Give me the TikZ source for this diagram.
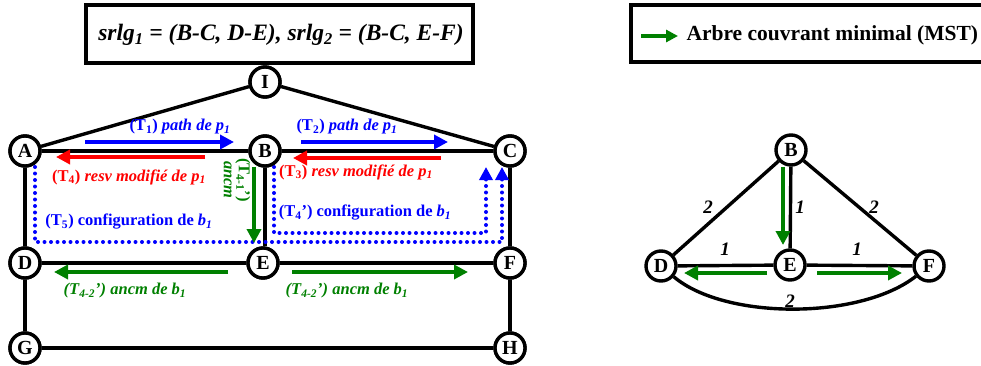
\documentclass[tikz,border=0pt]{standalone}
\usepackage{fontspec}
\setmainfont{Liberation Serif}
\usetikzlibrary{arrows.meta}
\definecolor{cblue}{RGB}{0,0,255}
\definecolor{cred}{RGB}{255,0,0}
\definecolor{cgreen}{RGB}{0,128,0}
\begin{document}
\begin{tikzpicture}[x=1pt,y=-1pt,
  vtx/.style={circle, draw, line width=3.4pt, fill=white, minimum size=30pt, inner sep=0pt, font=\fontsize{20}{20}\selectfont\bfseries},
  edge/.style={line width=3.4pt},
  carr/.style={line width=4.4pt, -{Triangle[length=14pt,width=14pt]}},
  dotarr/.style={cblue, line width=4pt, line cap=round, dash pattern=on 0pt off 6.5pt, -{Triangle[length=13pt,width=13pt]}},
  lbl/.style={font=\fontsize{16.5}{17}\selectfont\bfseries, inner sep=1pt},
  wlbl/.style={font=\fontsize{19}{19}\selectfont\bfseries\itshape, inner sep=1pt},
  boxst/.style={draw, line width=3.4pt}
]
\useasboundingbox (0,0) rectangle (981,366);

% title box
\draw[boxst] (86,5) rectangle (473,63);
\node[font=\fontsize{23.5}{25}\selectfont\bfseries\itshape] (title) at (281,35) {srlg\textsubscript{1} = (B-C, D-E), srlg\textsubscript{2} = (B-C, E-F)};

% legend box
\draw[boxst] (631,5) rectangle (995,62);
\coordinate (lg1) at (641,36);
\coordinate (lg2) at (678,36);
\draw[cgreen, line width=3.6pt, -{Triangle[length=12pt,width=12pt]}] (lg1) -- (lg2);
\node[font=\fontsize{21.5}{23}\selectfont\bfseries, anchor=west] (legend) at (683,35) {Arbre couvrant minimal (MST)};

% left graph nodes
\node[vtx] (I) at (265,82) {I};
\node[vtx] (A) at (25,151) {A};
\node[vtx] (B) at (265,151) {B};
\node[vtx] (C) at (510,151) {C};
\node[vtx] (D) at (25,263) {D};
\node[vtx] (E) at (263,263) {E};
\node[vtx] (F) at (510,263) {F};
\node[vtx] (G) at (25,348) {G};
\node[vtx] (H) at (510,348) {H};

\draw[edge] (A) -- (I);
\draw[edge] (I) -- (C);
\draw[edge] (A) -- (B);
\draw[edge] (B) -- (C);
\draw[edge] (A) -- (D);
\draw[edge] (B) -- (B |- E.north);
\draw[edge] (C) -- (F);
\draw[edge] (D) -- (E);
\draw[edge] (E) -- (F);
\draw[edge] (D) -- (G);
\draw[edge] (F) -- (H);
\draw[edge] (G) -- (H);

% dotted configuration paths
\coordinate (p5a) at (35,167);
\coordinate (p5b) at (35,242);
\coordinate (p5c) at (502,242);
\coordinate (p5d) at (502,167);
\draw[dotarr] (p5a) -- (p5b) -- (p5c) -- (p5d);
\coordinate (p4a) at (274,167);
\coordinate (p4b) at (274,233);
\coordinate (p4c) at (486,233);
\coordinate (p4d) at (486,167);
\draw[dotarr] (p4a) -- (p4b) -- (p4c) -- (p4d);

% redraw nodes on top
\foreach \n/\t in {I/I,A/A,B/B,C/C,D/D,E/E,F/F,G/G,H/H}{\node[vtx] at (\n) {\t};}

% coloured arrows
\draw[carr, cblue] (85,142) -- (234,142);
\draw[carr, cred] (205,157) -- (56,157);
\draw[carr, cblue] (301,142) -- (448,142);
\draw[carr, cred] (441,158) -- (293,158);
\draw[carr, cgreen] (254,167) -- (254,243);
\draw[carr, cgreen] (228,272) -- (54,272);
\draw[carr, cgreen] (292,272) -- (468,272);

% labels
\node[lbl, cblue] (l1) at (180,127) {(T\textsubscript{1}) \textit{path de p\textsubscript{1}}};
\node[lbl, cred] (l4) at (129,177) {(T\textsubscript{4}) \textit{resv modifié de p\textsubscript{1}}};
\node[lbl, cblue] (l2) at (347,127) {(T\textsubscript{2}) \textit{path de p\textsubscript{1}}};
\node[lbl, cred] (l3) at (356,172) {(T\textsubscript{3}) \textit{resv modifié de p\textsubscript{1}}};
\node[lbl, cblue] (l5) at (129,222) {(T\textsubscript{5}) configuration de \textit{b\textsubscript{1}}};
\node[lbl, cblue] (l4p) at (365,213) {(T\textsubscript{4}’) configuration de \textit{b\textsubscript{1}}};
\node[lbl, cgreen, rotate=-90, align=center] (l41) at (237,180) {(T\textsubscript{4-1}’)\\[-2pt]\textit{ancm}};
\node[lbl, cgreen] (l42a) at (125,291) {\textit{(T\textsubscript{4-2}’) ancm de b\textsubscript{1}}};
\node[lbl, cgreen] (l42b) at (347,291) {\textit{(T\textsubscript{4-2}’) ancm de b\textsubscript{1}}};

% right graph (MST)
\node[vtx] (B2) at (791,150) {B};
\node[vtx] (D2) at (661,266) {D};
\node[vtx] (E2) at (790,265) {E};
\node[vtx] (F2) at (929,266) {F};
\draw[edge] (B2) -- (D2);
\draw[edge] (B2) -- (E2);
\draw[edge] (B2) -- (F2);
\draw[edge] (D2) -- (E2);
\draw[edge] (E2) -- (F2);
\draw[edge] (D2) .. controls (725,320) and (860,320) .. (F2);
\node[wlbl] (w1) at (708,207) {2};
\node[wlbl] (w2) at (800,207) {1};
\node[wlbl] (w3) at (874,207) {2};
\node[wlbl] (w4) at (725,249) {1};
\node[wlbl] (w5) at (857,249) {1};
\node[wlbl] (w6) at (790,301) {2};
\draw[carr, cgreen] (783,167) -- (783,245);
\draw[carr, cgreen] (767,273) -- (684,273);
\draw[carr, cgreen] (817,273) -- (902,273);
\end{tikzpicture}
\end{document}
